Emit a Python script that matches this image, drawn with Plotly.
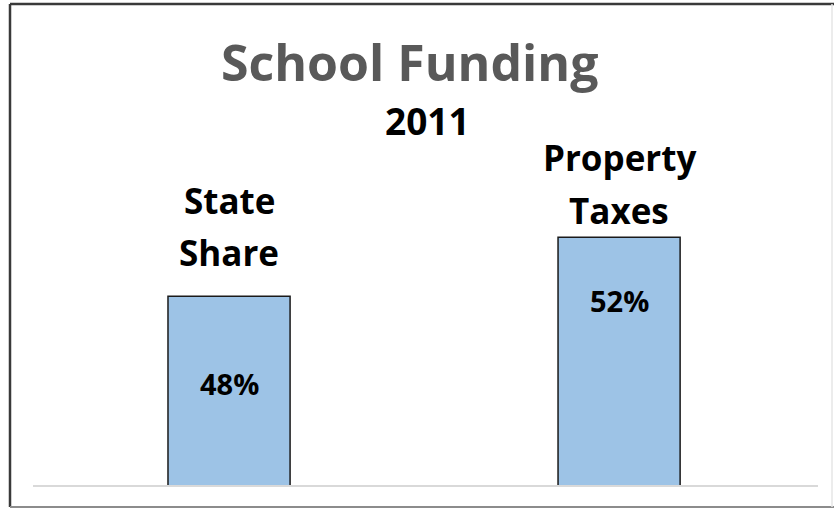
import plotly.graph_objects as go

# Data
categories = ["State Share", "Property Taxes"]
label_lines = [["State", "Share"], ["Property", "Taxes"]]
values = [48, 52]
pct_labels = [f"{v}%" for v in values]
title_text = "School Funding"
subtitle_text = "2011"

W, H = 834, 509
L, R, T, B = 33, 16, 100, 24
PW, PH = W - L - R, H - T - B

def px(x):
    return (x - L) / PW

def py(y):
    return (H - B - y) / PH

FONT = "Open Sans"
xpos = [0, 1]

fig = go.Figure()
fig.add_trace(go.Bar(
    x=xpos, y=values, width=0.313,
    marker=dict(color="#9DC3E6", line=dict(color="#1a1a1a", width=1.5)),
    hoverinfo="skip",
))

ann = []
ann.append(dict(text=f"<b>{title_text}</b>", x=px(409), y=py(62), xref="paper", yref="paper",
                showarrow=False, font=dict(family=FONT, size=50, color="#595959"),
                xanchor="center", yanchor="middle"))
ann.append(dict(text=f"<b>{subtitle_text}</b>", x=px(427), y=py(120), xref="paper", yref="paper",
                showarrow=False, font=dict(family=FONT, size=37, color="#000000"),
                xanchor="center", yanchor="middle"))

# category label lines (pixel centres)
line_y = [[200, 252], [157, 210]]
for i, lines in enumerate(label_lines):
    for j, ln in enumerate(lines):
        ann.append(dict(text=f"<b>{ln}</b>", x=xpos[i], y=py(line_y[i][j]), xref="x", yref="paper",
                        showarrow=False, font=dict(family=FONT, size=35, color="#000000"),
                        xanchor="center", yanchor="middle"))
pct_y = [383, 300]
for i, t in enumerate(pct_labels):
    ann.append(dict(text=f"<b>{t}</b>", x=xpos[i], y=py(pct_y[i]), xref="x", yref="paper",
                    showarrow=False, font=dict(family=FONT, size=29, color="#000000"),
                    xanchor="center", yanchor="middle"))

shapes = [
    dict(type="line", xref="paper", yref="paper", x0=px(10), x1=px(834), y0=py(4), y1=py(4),
         line=dict(color="#3a3a3a", width=2.5)),
    dict(type="line", xref="paper", yref="paper", x0=px(10), x1=px(10), y0=py(4), y1=py(507),
         line=dict(color="#3a3a3a", width=2.5)),
    dict(type="line", xref="paper", yref="paper", x0=px(10), x1=px(834), y0=py(507), y1=py(507),
         line=dict(color="#8c8c8c", width=2)),
    dict(type="line", xref="paper", yref="paper", x0=px(832), x1=px(832), y0=py(4), y1=py(507),
         line=dict(color="#e6e6e6", width=1.5)),
]

fig.update_layout(
    width=W, height=H,
    margin=dict(l=L, r=R, t=T, b=B),
    paper_bgcolor="white", plot_bgcolor="white",
    showlegend=False,
    annotations=ann, shapes=shapes,
    xaxis=dict(range=[-0.5026, 1.51], showticklabels=False, showgrid=False, zeroline=False,
               showline=True, linecolor="#D9D9D9", linewidth=2, ticks=""),
    yaxis=dict(range=[35.2, 61.3], visible=False, showgrid=False, zeroline=False),
)

fig.write_html("out.html",
               config={"displayModeBar": False},
               post_script="document.body.style.margin='0';document.body.style.overflow='hidden';")
